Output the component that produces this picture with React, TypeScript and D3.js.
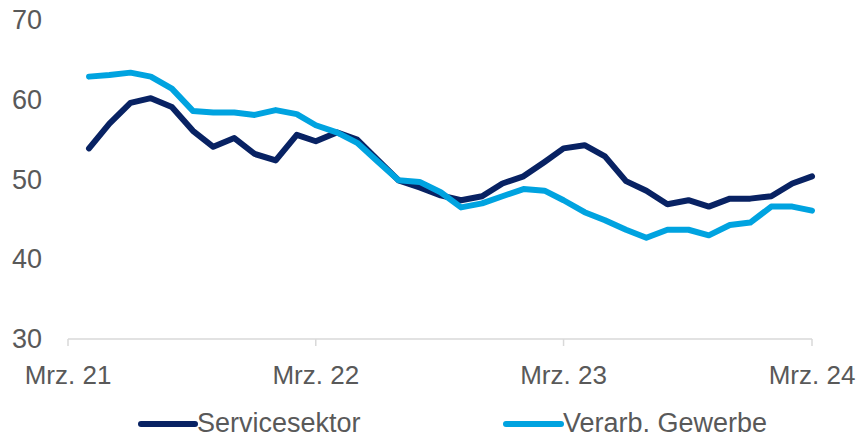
import React from 'react'
import * as d3 from 'd3'

// monthly PMI values, Apr 21 .. Mar 24
const months = [
  '2021-04', '2021-05', '2021-06', '2021-07', '2021-08', '2021-09', '2021-10', '2021-11', '2021-12',
  '2022-01', '2022-02', '2022-03', '2022-04', '2022-05', '2022-06', '2022-07', '2022-08', '2022-09',
  '2022-10', '2022-11', '2022-12', '2023-01', '2023-02', '2023-03', '2023-04', '2023-05', '2023-06',
  '2023-07', '2023-08', '2023-09', '2023-10', '2023-11', '2023-12', '2024-01', '2024-02', '2024-03',
]

const servicesektor = [
  53.9, 57.0, 59.6, 60.2, 59.1, 56.1, 54.1, 55.2, 53.2,
  52.4, 55.6, 54.8, 55.9, 55.0, 52.4, 49.9, 49.0, 48.0,
  47.4, 47.9, 49.5, 50.4, 52.2, 53.9, 54.3, 52.9, 49.8,
  48.6, 46.9, 47.4, 46.6, 47.6, 47.6, 47.9, 49.5, 50.4,
]

const verarbGewerbe = [
  62.9, 63.1, 63.4, 62.9, 61.4, 58.6, 58.4, 58.4, 58.1,
  58.7, 58.2, 56.8, 55.9, 54.6, 52.2, 49.9, 49.7, 48.4,
  46.5, 47.0, 47.9, 48.8, 48.6, 47.4, 45.9, 44.9, 43.7,
  42.7, 43.7, 43.7, 43.0, 44.3, 44.6, 46.6, 46.6, 46.1,
]

const yTicks = [30, 40, 50, 60, 70]
const xTicks = ['2021-03', '2022-03', '2023-03', '2024-03']
const xTickLabels = ['Mrz. 21', 'Mrz. 22', 'Mrz. 23', 'Mrz. 24']

const seriesNames = ['Servicesektor', 'Verarb. Gewerbe']
const colors = ['#082263', '#00a3e0']

const width = 862
const height = 437
const parse = d3.timeParse('%Y-%m')

export default function App() {
  const x = d3
    .scaleTime()
    .domain([parse('2021-03')!, parse('2024-03')!])
    .range([68, 812])
  const y = d3.scaleLinear().domain([30, 70]).range([339, 20])

  const line = d3
    .line<number>()
    .x((d, i) => x(parse(months[i])!))
    .y((d) => y(d))

  const allSeries = [servicesektor, verarbGewerbe]
  const textColor = '#595959'
  const font = '"Liberation Sans", Arial, sans-serif'

  // legend positions
  const legend = [
    { x1: 141, x2: 195, tx: 197 },
    { x1: 506, x2: 561, tx: 563 },
  ]

  return (
    <svg
      width={width}
      height={height}
      style={{ position: 'absolute', left: 0, top: 0, background: '#fff' }}
      fontFamily={font}
    >
      {/* y labels */}
      {yTicks.map((t) => (
        <text
          key={t}
          x={42}
          y={y(t)}
          textAnchor="end"
          dominantBaseline="central"
          fontSize={27}
          fill={textColor}
        >
          {t}
        </text>
      ))}

      {/* x axis */}
      <line x1={x.range()[0]} x2={x.range()[1]} y1={y(30)} y2={y(30)} stroke="#d9d9d9" strokeWidth={1.5} />
      {xTicks.map((t, i) => {
        const px = x(parse(t)!)
        return (
          <g key={t}>
            <line x1={px} x2={px} y1={y(30)} y2={y(30) + 7} stroke="#d9d9d9" strokeWidth={1.5} />
            <text x={px} y={384} textAnchor="middle" fontSize={26} fill={textColor}>
              {xTickLabels[i]}
            </text>
          </g>
        )
      })}

      {/* series */}
      {allSeries.map((s, i) => (
        <path
          key={seriesNames[i]}
          d={line(s) || ''}
          fill="none"
          stroke={colors[i]}
          strokeWidth={6}
          strokeLinejoin="round"
          strokeLinecap="round"
        />
      ))}

      {/* legend */}
      {seriesNames.map((name, i) => (
        <g key={name}>
          <line
            x1={legend[i].x1}
            x2={legend[i].x2}
            y1={424}
            y2={424}
            stroke={colors[i]}
            strokeWidth={6}
            strokeLinecap="round"
          />
          <text x={legend[i].tx} y={432} fontSize={27} fill={textColor}>
            {name}
          </text>
        </g>
      ))}
    </svg>
  )
}
